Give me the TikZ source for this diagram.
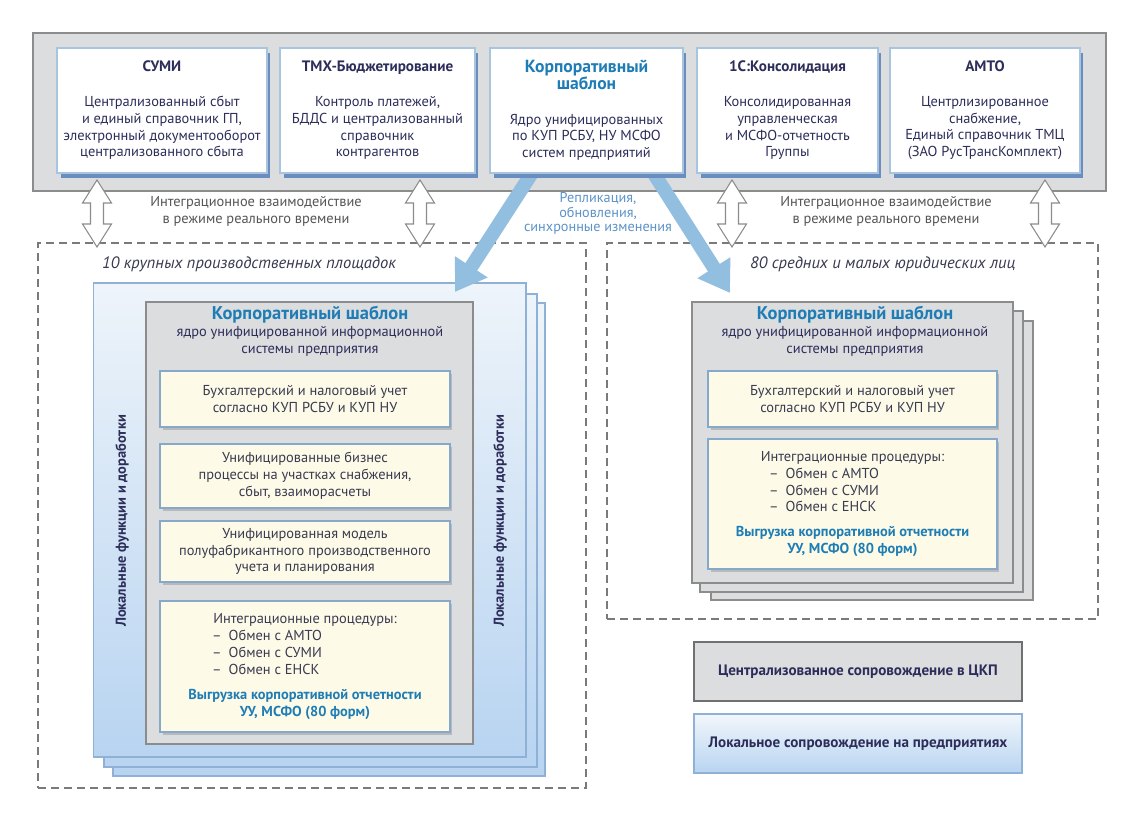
\documentclass[tikz,border=0pt]{standalone}
\usepackage{fontspec}
\setmainfont{PT Sans}
\usepackage{tikz}
\usetikzlibrary{arrows.meta,shadows,positioning}
\definecolor{TextNavy}{HTML}{2D2D5A}
\definecolor{TextGray}{HTML}{3A3A50}
\definecolor{CoreBlue}{HTML}{1E7DB5}
\definecolor{ReplBlue}{HTML}{5C93C9}
\definecolor{ArrowBlue}{HTML}{92BEE0}
\definecolor{BarFill}{HTML}{DCDDDF}
\definecolor{BarEdge}{HTML}{8C8C8C}
\definecolor{BoxEdge}{HTML}{A9C4DE}
\definecolor{BoxShadow}{HTML}{6A8DC0}
\definecolor{YellowFill}{HTML}{FDFBE8}
\definecolor{YellowEdge}{HTML}{86A8CB}
\definecolor{StackTop}{HTML}{EEF4FA}
\definecolor{StackBot}{HTML}{B8D4F1}
\definecolor{StackEdge}{HTML}{8FB1D6}
\definecolor{FrameGray}{HTML}{7A7A7A}
\definecolor{IntGray}{HTML}{555555}
\newcommand{\BodyFont}{\fontsize{8.2}{9.6}\selectfont}
\newcommand{\TitleFont}{\bfseries\fontsize{8.6}{9.6}\selectfont}
\newcommand{\CoreFont}{\bfseries\fontsize{10}{9.6}\selectfont\color{CoreBlue}}
\newcommand{\BlueBold}{\bfseries\color{CoreBlue}}
\pgfdeclarelayer{back}
\pgfdeclarelayer{front}
\pgfsetlayers{back,main,front}

\begin{document}
\begin{tikzpicture}[
x=0.02cm, y=-0.02cm,
TopBar/.style={draw=BarEdge,fill=BarFill,line width=1pt,inner sep=0pt},
TopBox/.style={draw=BoxEdge,fill=white,line width=0.8pt,minimum height=2.5cm,
  align=center,text=TextNavy,font=\BodyFont,inner sep=0pt,
  drop shadow={shadow xshift=0.07cm,shadow yshift=-0.1cm,fill=BoxShadow,opacity=1}},
FrameBox/.style={draw=FrameGray,line width=0.9pt,dash pattern=on 0.16cm off 0.1cm,inner sep=0pt},
BlueLayer/.style={draw=StackEdge,top color=StackTop,bottom color=StackBot,line width=0.7pt,inner sep=0pt},
GrayCore/.style={draw=BarEdge,fill=BarFill,line width=0.8pt,inner sep=0pt},
YellowBox/.style={draw=YellowEdge,fill=YellowFill,line width=0.7pt,align=center,
  text=TextGray,font=\BodyFont,inner sep=0pt,
  drop shadow={shadow xshift=0.05cm,shadow yshift=-0.06cm,opacity=0.3,fill=black!60}},
Legend/.style={minimum width=6.56cm,minimum height=1.18cm,inner sep=0pt,
  text=TextNavy,font=\TitleFont},
DblArrow/.style={draw=BarEdge,fill=white,line width=0.6pt,line join=miter},
RepArrow/.style={draw=ArrowBlue,line width=0.28cm,-{Triangle[width=0.74cm,length=0.6cm]}},
IntText/.style={align=center,text=IntGray,font=\BodyFont},
GroupText/.style={anchor=west,text=TextGray,font=\itshape\fontsize{9.4}{11}\selectfont},
SideText/.style={rotate=90,text=TextNavy,font=\bfseries\fontsize{8.2}{9.6}\selectfont}
]
\useasboundingbox (0,0) rectangle (1142,828);

\begin{pgfonlayer}{back}
\fill[white] (0,0) rectangle (1142,828);
\node[TopBar,minimum width=21.46cm,minimum height=3.16cm] (bar) at (569.5,112) {};

% groups of enterprises
\node[FrameBox,minimum width=10.96cm,minimum height=10.9cm] (frameL) at (312,515.5) {};
\node[FrameBox,minimum width=9.82cm,minimum height=7.52cm] (frameR) at (852.5,431) {};

% left stack
\node[BlueLayer,minimum width=8.64cm,minimum height=9.46cm] (stackL3) at (329,539.5) {};
\node[BlueLayer,minimum width=8.66cm,minimum height=9.46cm] (stackL2) at (320.5,530.5) {};
\node[BlueLayer,minimum width=8.65cm,minimum height=9.48cm] (stackL1) at (309.8,520) {};

% right stack
\node[GrayCore,minimum width=6.44cm,minimum height=5.58cm] (stackR3) at (872,460.5) {};
\node[GrayCore,minimum width=6.46cm,minimum height=5.62cm] (stackR2) at (861.5,451.5) {};
\node[GrayCore,minimum width=6.42cm,minimum height=5.62cm] (stackR1) at (852.5,442.5) {};
\end{pgfonlayer}

\begin{pgfonlayer}{front}
\node[TopBox,minimum width=4.2cm] (sumi) at (162,110.5)
  {{\TitleFont СУМИ}\\[10pt] Централизованный сбыт\\ и единый справочник ГП,\\
   электронный документооборот\\ централизованного сбыта};
\node[TopBox,minimum width=3.9cm] (tmx) at (377.5,110.5)
  {{\TitleFont ТМХ-Бюджетирование}\\[10pt] Контроль платежей,\\ БДДС и централизованный\\
   справочник\\ контрагентов};
\node[TopBox,minimum width=3.86cm] (core) at (586.5,110.5)
  {{\CoreFont Корпоративный}\\ {\CoreFont шаблон}\\[10pt] Ядро унифицированных\\
   по КУП РСБУ, НУ МСФО\\ систем предприятий};
\node[TopBox,minimum width=3.62cm] (kons) at (787.5,110.5)
  {{\TitleFont 1С:Консолидация}\\[10pt] Консолидированная\\ управленческая\\
   и МСФО-отчетность\\ Группы};
\node[TopBox,minimum width=3.8cm] (amto) at (985,110.5)
  {{\TitleFont АМТО}\\[10pt] Центрлизированное\\ снабжение,\\
   Единый справочник ТМЦ\\ (ЗАО РусТрансКомплект)};
\end{pgfonlayer}

% real time integration
\foreach \x/\n in {97/syncA,420/syncB,732/syncC,1045/syncD}{
  \coordinate (\n) at (\x,180);
  \draw[DblArrow] (\n) -- ++(14.5,23) -- ++(-8,0) -- ++(0,21) -- ++(8,0) -- ++(-14.5,23)
    -- ++(-14.5,-23) -- ++(8,0) -- ++(0,-21) -- ++(-8,0) -- cycle;
}

\node[IntText] (intL) at (256,211) {Интеграционное взаимодействие\\ в режиме реального времени};
\node[IntText] (intR) at (886,211) {Интеграционное взаимодействие\\ в режиме реального времени};
\node[align=center,text=ReplBlue,font=\fontsize{8.1}{8.2}\selectfont] (repl) at (598,213.5)
  {Репликация,\\ обновления,\\ синхронные изменения};

\node[GroupText] (grpL) at (96,264) {10 крупных производственных площадок};
\node[GroupText] (grpR) at (744,264) {80 средних и малых юридических лиц};

% replication to both groups
\coordinate (tipL) at (455,292);
\coordinate (tipR) at (730,293);
\draw[RepArrow] ([xshift=-1.1cm]core.south) -- (tipL);
\draw[RepArrow] ([xshift=1.35cm]core.south) -- (tipR);

% left core template
\node[GrayCore,minimum width=6.54cm,minimum height=8.84cm] (coreL) at (309.5,523) {};
\node[align=center,text=TextNavy,font=\BodyFont] (coreLt) at (310,331)
  {{\bfseries\fontsize{10.5}{9.6}\selectfont\color{CoreBlue}Корпоративный шаблон}\\
   ядро унифицированной информационной\\ системы предприятия};
\node[YellowBox,minimum width=5.8cm,minimum height=1.12cm] (accL) at (305,399)
  {Бухгалтерский и налоговый учет\\ согласно КУП РСБУ и КУП НУ};
\node[YellowBox,minimum width=5.8cm,minimum height=1.28cm] (bizL) at (305,476)
  {Унифицированные бизнес\\ процессы на участках снабжения,\\ сбыт, взаиморасчеты};
\node[YellowBox,minimum width=5.8cm,minimum height=1.22cm] (prodL) at (305,551.5)
  {Унифицированная модель\\ полуфабрикантного производственного\\ учета и планирования};
\node[YellowBox,minimum width=5.8cm,minimum height=2.62cm] (intgL) at (305,666.5)
  {Интеграционные процедуры:\\
   \makebox[3.72cm][l]{–\enspace Обмен с АМТО}\\
   \makebox[3.72cm][l]{–\enspace Обмен с СУМИ}\\
   \makebox[3.72cm][l]{–\enspace Обмен с ЕНСК}\\[4.5pt]
   {\BlueBold Выгрузка корпоративной отчетности}\\ {\BlueBold УУ, МСФО (80 форм)}};
\node[SideText] (sideL) at (122,521) {Локальные функции и доработки};
\node[SideText] (sideR) at (500,521) {Локальные функции и доработки};

% right core template
\node[align=center,text=TextNavy,font=\BodyFont] (coreRt) at (855,331)
  {{\bfseries\fontsize{10.5}{9.6}\selectfont\color{CoreBlue}Корпоративный шаблон}\\
   ядро унифицированной информационной\\ системы предприятия};
\node[YellowBox,minimum width=5.78cm,minimum height=1.12cm] (accR) at (852.5,399)
  {Бухгалтерский и налоговый учет\\ согласно КУП РСБУ и КУП НУ};
\node[YellowBox,minimum width=5.78cm,minimum height=2.6cm] (intgR) at (852.5,504)
  {Интеграционные процедуры:\\
   \makebox[3.34cm][l]{–\enspace Обмен с АМТО}\\
   \makebox[3.34cm][l]{–\enspace Обмен с СУМИ}\\
   \makebox[3.34cm][l]{–\enspace Обмен с ЕНСК}\\[4.5pt]
   {\BlueBold Выгрузка корпоративной отчетности}\\ {\BlueBold УУ, МСФО (80 форм)}};

% legend
\node[Legend,GrayCore,draw=BarEdge!80!black] (legC) at (858,671.5) {Централизованное сопровождение в ЦКП};
\node[Legend,BlueLayer,top color=StackTop!80!white,bottom color=StackBot] (legL) at (858,743.5) {Локальное сопровождение на предприятиях};
\end{tikzpicture}
\end{document}
